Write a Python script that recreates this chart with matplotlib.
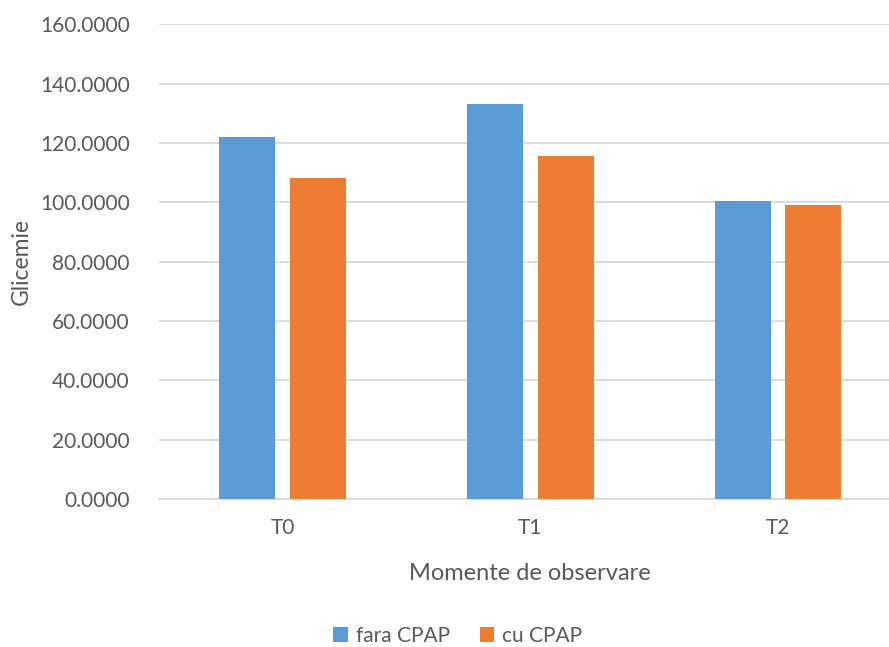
import matplotlib.pyplot as plt
import numpy as np

categories = ["T0", "T1", "T2"]
fara_cpap = [122.1, 133.3, 100.3]
cu_cpap = [108.2, 115.7, 99.0]
yticks = [0, 20, 40, 60, 80, 100, 120, 140, 160]

blue = "#5B9BD5"
orange = "#ED7D31"
text_grey = "#595959"
grid_grey = "#D9D9D9"

plt.rcParams["font.family"] = ["Lato", "DejaVu Sans"]

fig = plt.figure(figsize=(8.89, 6.47), dpi=100)
ax = fig.add_axes([0.1785, 0.229, 0.836, 0.7333])

x = np.arange(len(categories))
width = 0.226
offset = 0.143
ax.bar(x - offset, fara_cpap, width, color=blue, label="fara CPAP", zorder=3)
ax.bar(x + offset, cu_cpap, width, color=orange, label="cu CPAP", zorder=3)

ax.set_xlim(-0.5, 2.5)
ax.set_ylim(0, 160)
ax.set_yticks(yticks)
ax.set_yticklabels([f"{v:.4f}" for v in yticks])
ax.set_xticks(x)
ax.set_xticklabels(categories)
ax.yaxis.grid(True, color=grid_grey, linewidth=1.3, zorder=0)
ax.tick_params(axis="both", length=0, labelsize=15, colors=text_grey)
ax.tick_params(axis="y", pad=21)
ax.tick_params(axis="x", pad=14)
for side in ["top", "right", "left"]:
    ax.spines[side].set_visible(False)
ax.spines["bottom"].set_color(grid_grey)
ax.spines["bottom"].set_linewidth(1.3)

ax.set_ylabel("Glicemie", fontsize=16.5, color=text_grey, labelpad=6)
ax.set_xlabel("Momente de observare", fontsize=17, color=text_grey, labelpad=18)

fig.legend(
    loc="center",
    bbox_to_anchor=(458 / 889, 1 - 636 / 647),
    ncol=2,
    frameon=False,
    fontsize=15,
    labelcolor=text_grey,
    handlelength=0.7,
    handleheight=0.7,
    handletextpad=0.4,
    columnspacing=1.4,
)

fig.savefig("out.png", dpi=100)
